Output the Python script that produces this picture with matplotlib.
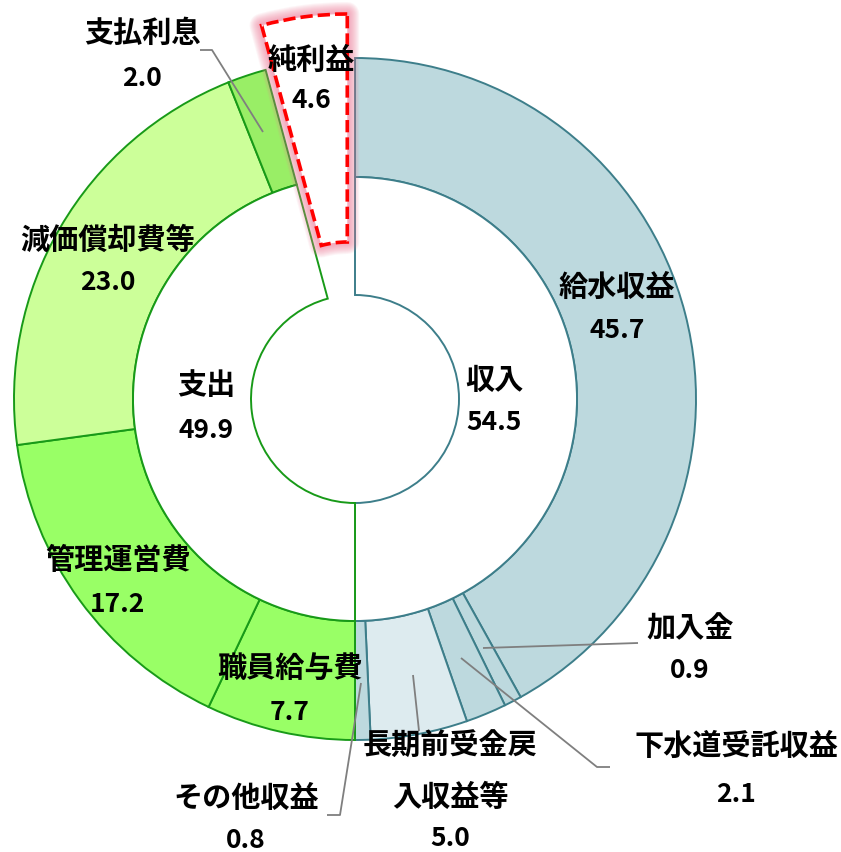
import numpy as np
import matplotlib
matplotlib.use("Agg")
import matplotlib.pyplot as plt
from matplotlib.patches import Wedge

plt.rcParams['font.family'] = ['Noto Sans CJK JP', 'DejaVu Sans']

# 収益的収支（単位：億円）
revenue_labels = ['給水収益', '加入金', '下水道受託収益', '長期前受金戻入収益等', 'その他収益']
revenue_values = [45.7, 0.9, 2.1, 5.0, 0.8]
expense_labels = ['職員給与費', '管理運営費', '減価償却費等', '支払利息']
expense_values = [7.7, 17.2, 23.0, 2.0]
profit_label = '純利益'
profit_value = 4.6
total_labels = ['収入', '支出']
total_values = [54.5, 49.9]

# styling
REV_FILL = ['#bdd9de', '#bdd9de', '#bdd9de', '#ddebef', '#bdd9de']
EXP_FILL = ['#99ff66', '#99ff66', '#ccff99', '#99ee66']
TEAL = '#3d7e8a'
GREEN = '#189a18'
LEADER = '#7f7f7f'

W, H = 841, 852
CX, CY = 355, H - 399
R_OUT, R_MID, R_IN = 341, 222, 104

fig = plt.figure(figsize=(W / 100, H / 100), dpi=100)
ax = fig.add_axes([0, 0, 1, 1])

# outer ring: revenue clockwise from the top, then expenses and profit
outer_vals = revenue_values + expense_values + [profit_value]
outer_cols = REV_FILL + EXP_FILL + ['none']
outer, _ = ax.pie(outer_vals, radius=R_OUT, center=(CX, CY), startangle=90,
                  counterclock=False, colors=outer_cols,
                  wedgeprops=dict(width=R_OUT - R_MID, linewidth=1.4))
for i, w in enumerate(outer):
    w.set_edgecolor(TEAL if i < len(revenue_values) else GREEN)
outer[-1].set_visible(False)

# inner ring: totals, with the profit share left open
inner_vals = total_values + [profit_value]
inner, _ = ax.pie(inner_vals, radius=R_MID, center=(CX, CY), startangle=90,
                  counterclock=False, colors=['white', 'white', 'none'],
                  wedgeprops=dict(width=R_MID - R_IN, linewidth=1.4))
inner[0].set_edgecolor(TEAL)
inner[1].set_edgecolor(GREEN)
inner[2].set_visible(False)

# profit slice, pulled out along its bisector
pw = outer[-1]
t1, t2 = pw.theta1, pw.theta2
mid = np.deg2rad((t1 + t2) / 2)
pull = 58.5
pc = (CX + pull * np.cos(mid), CY + pull * np.sin(mid))
p_out, p_in = 327, 99
for lw in np.linspace(24, 4, 11):
    ax.add_patch(Wedge(pc, p_out, t1, t2, width=p_out - p_in, facecolor='none',
                       edgecolor='#f07898', linewidth=lw * 0.72, alpha=0.08,
                       joinstyle='round'))
ax.add_patch(Wedge(pc, p_out, t1, t2, width=p_out - p_in, facecolor='white',
                   edgecolor='#ff0000', linewidth=2.6,
                   linestyle=(0, (3.4, 1.4)), joinstyle='miter'))

# leader lines
leaders = [
    [(200, 50), (212, 50), (263, 132)],          # 支払利息
    [(483, 648), (638, 643)],                     # 加入金
    [(461, 658), (597, 767), (610, 767)],         # 下水道受託収益
    [(413, 675), (419, 731)],                     # 長期前受金戻入収益等
    [(361, 683), (340, 815), (327, 815)],         # その他収益
]
for pts in leaders:
    xs = [p[0] for p in pts]
    ys = [H - p[1] for p in pts]
    ax.plot(xs, ys, color=LEADER, lw=1.3, solid_capstyle='butt', zorder=5)

NAME_FS, NUM_FS = 21, 19


def label(name_lines, value, x, y_name, y_num):
    for txt, yy in zip(name_lines, y_name):
        ax.text(x, H - yy, txt, ha='center', va='center', fontsize=NAME_FS,
                fontweight='bold', zorder=6)
    ax.text(x, H - y_num, f'{value:.1f}', ha='center', va='center',
            fontsize=NUM_FS, fontweight='bold', zorder=6)


label([revenue_labels[0]], revenue_values[0], 617, [287], 330)
label([revenue_labels[1]], revenue_values[1], 690, [628], 670)
label([revenue_labels[2]], revenue_values[2], 736, [746], 795)
label(['長期前受金戻', '入収益等'], revenue_values[3], 450, [746, 797], 838)
label([revenue_labels[4]], revenue_values[4], 246, [798], 840)
label([expense_labels[0]], expense_values[0], 290, [668], 712)
label([expense_labels[1]], expense_values[1], 118, [560], 604)
label([expense_labels[2]], expense_values[2], 108, [240], 282)
label([expense_labels[3]], expense_values[3], 142, [33], 78)
label([profit_label], profit_value, 311, [60], 101)
label([total_labels[0]], total_values[0], 494, [380], 422)
label([total_labels[1]], total_values[1], 206, [385], 430)

ax.set_xlim(0, W)
ax.set_ylim(0, H)
ax.set_aspect('equal')
ax.axis('off')
fig.savefig('out.png', dpi=100, facecolor='white')
